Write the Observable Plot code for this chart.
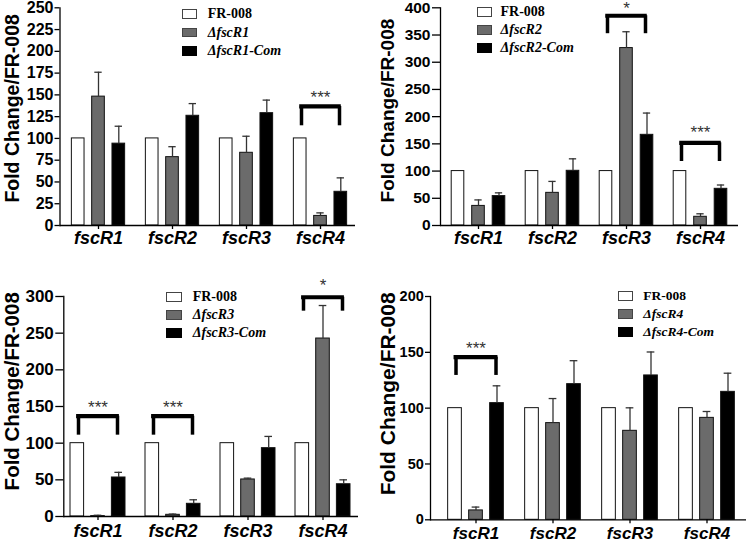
<!DOCTYPE html>
<html><head><meta charset="utf-8">
<script src="https://cdn.jsdelivr.net/npm/d3@7"></script>
<script src="https://cdn.jsdelivr.net/npm/@observablehq/plot@0.6"></script>
<style>
body{margin:0;background:#fff;}
#root{position:relative;width:750px;height:544px;overflow:hidden;background:#fff;}
.panel{position:absolute;}
.leg{position:absolute;font-family:"Liberation Serif","Times New Roman",serif;font-weight:bold;color:#000;white-space:nowrap;}
.sw{position:absolute;box-sizing:border-box;border:1px solid #333;}
.lt{position:absolute;line-height:1;transform:translateY(-52%);}
</style></head><body><div id="root"></div>
<script>
// ---- shared ----
const genes = ["fscR1", "fscR2", "fscR3", "fscR4"];
const yLabel = "Fold Change/FR-008";

// ---- panel A: ΔfscR1 ----
const strainsA = ["FR-008", "ΔfscR1", "ΔfscR1-Com"];
const wtA = [100, 100, 100, 100];
const mutA = [148, 78.5, 83.5, 11];
const mutErrA = [28, 12, 19, 3.5];
const comA = [94, 126, 129, 38.7];
const comErrA = [20, 14, 15, 16];
const yTicksA = [0, 25, 50, 75, 100, 125, 150, 175, 200, 225, 250];
const sigGenesA = ["fscR4"];
const sigTopA = [136.7];
const sigBottomA = [114.5];
const sigStarA = [151];
const sigTextA = ["***"];

// ---- panel B: ΔfscR2 ----
const strainsB = ["FR-008", "ΔfscR2", "ΔfscR2-Com"];
const wtB = [100, 100, 100, 100];
const mutB = [36, 60, 326, 16];
const mutErrB = [11, 21, 30, 5.5];
const comB = [54, 100.5, 166.6, 67.4];
const comErrB = [6, 22, 40, 7];
const yTicksB = [0, 50, 100, 150, 200, 250, 300, 350, 400];
const sigGenesB = ["fscR3", "fscR4"];
const sigTopB = [385.4, 151.9];
const sigBottomB = [352.4, 117.6];
const sigStarB = [405, 177.6];
const sigTextB = ["*", "***"];

// ---- panel C: ΔfscR3 ----
const strainsC = ["FR-008", "ΔfscR3", "ΔfscR3-Com"];
const wtC = [100, 100, 100, 100];
const mutC = [0.5, 2.3, 50.5, 242.7];
const mutErrC = [1.2, 1, 1.8, 45];
const comC = [53.2, 17.3, 93.2, 44];
const comErrC = [7, 5.5, 16, 6];
const yTicksC = [0, 50, 100, 150, 200, 250, 300];
const sigGenesC = ["fscR1", "fscR2", "fscR4"];
const sigTopC = [136.8, 136.8, 299];
const sigBottomC = [110.9, 110.9, 280];
const sigStarC = [153.7, 153.7, 319.5];
const sigTextC = ["***", "***", "*"];

// ---- panel D: ΔfscR4 ----
const strainsD = ["FR-008", "ΔfscR4", "ΔfscR4-Com"];
const wtD = [100, 100, 100, 100];
const mutD = [8.4, 86.6, 79.7, 91.3];
const mutErrD = [3, 22, 20.6, 5.7];
const comD = [104.5, 121.5, 129.3, 114.6];
const comErrD = [15.5, 21, 21, 16.7];
const yTicksD = [0, 50, 100, 150, 200];
const sigGenesD = ["fscR1"];
const sigTopD = [145.7];
const sigBottomD = [129.3];
const sigStarD = [157];
const sigTextD = ["***"];

const fills = ["#ffffff", "#6b6b6b", "#000000"];
const swatchBorders = ["#444", "#444", "#000"];
const root = document.getElementById("root");

function buildPanel(p) {
  const rows = [];
  genes.forEach((g, i) => {
    rows.push({gene: g, s: 0, v: p.wt[i], e: 0});
    rows.push({gene: g, s: 1, v: p.mut[i], e: p.mutErr[i]});
    rows.push({gene: g, s: 2, v: p.com[i], e: p.comErr[i]});
  });
  const sig = p.sigGenes.map((g, i) => ({gene: g, top: p.sigTop[i], bottom: p.sigBottom[i], star: p.sigStar[i], label: p.sigText[i]}));
  const step = (p.c3 - p.c0) / 3;
  const inset = (step - p.barW) / 2;
  const capInset = (step - 8) / 2;
  const offs = [-p.off, 0, p.off];
  const marks = [];
  for (let s = 0; s < 3; s++) {
    const d = rows.filter(r => r.s === s);
    marks.push(Plot.barY(d, {x: "gene", y: "v", fill: fills[s], stroke: "#111", strokeWidth: 1, insetLeft: inset, insetRight: inset, dx: offs[s]}));
    const de = d.filter(r => r.e > 0);
    marks.push(Plot.ruleX(de, {x: "gene", y1: "v", y2: r => r.v + r.e, dx: offs[s], stroke: "#333", strokeWidth: 1.3}));
    marks.push(Plot.tickY(de, {x: "gene", y: r => r.v + r.e, dx: offs[s], insetLeft: capInset, insetRight: capInset, stroke: "#333", strokeWidth: 1.3}));
  }
  const bIn = (step - 2 * p.bOff) / 2;
  marks.push(Plot.tickY(sig, {x: "gene", y: "top", insetLeft: bIn, insetRight: bIn, stroke: "#000", strokeWidth: 4.2, strokeLinecap: "square"}));
  marks.push(Plot.ruleX(sig, {x: "gene", y1: "bottom", y2: "top", dx: -p.bOff, stroke: "#000", strokeWidth: 3.5}));
  marks.push(Plot.ruleX(sig, {x: "gene", y1: "bottom", y2: "top", dx: p.bOff, stroke: "#000", strokeWidth: 3.5}));
  marks.push(Plot.text(sig, {x: "gene", y: "star", text: "label", fontSize: 17, fill: "#333", lineAnchor: "bottom", dy: 9, fontFamily: "Liberation Sans, Arial, sans-serif"}));
  marks.push(Plot.ruleY([0], {stroke: "#000", strokeWidth: 1.3}));
  marks.push(Plot.frame({anchor: "left", stroke: "#000", strokeWidth: 1.3}));
  marks.push(Plot.axisY({ticks: p.yTicks, tickSize: p.yTickSize, tickPadding: p.yTickPad, fontSize: p.tickFont, fontWeight: "bold", label: null, strokeWidth: 1.3, tickFormat: d => String(d)}));
  marks.push(Plot.axisX({tickSize: 4, tickPadding: p.xTickPad, fontSize: p.geneFont, fontWeight: "bold", fontStyle: "italic", label: null, strokeWidth: 1.3}));
  marks.push(Plot.text([yLabel], {frameAnchor: "left", rotate: -90, text: d => d, dx: p.labelDx, dy: p.labelDy, fontSize: p.labelFont, fontWeight: "bold", textAnchor: "middle", lineAnchor: "middle"}));

  const chart = Plot.plot({
    width: p.w, height: p.h,
    marginLeft: p.mL, marginRight: p.mR, marginTop: p.mT, marginBottom: p.mB,
    x: {type: "band", domain: genes, range: [p.c0 - step / 2, p.c3 + step / 2], padding: 0},
    y: {domain: [0, p.yMax]},
    style: {fontFamily: "Liberation Sans, Arial, sans-serif", color: "#000", background: "transparent", overflow: "visible"},
    marks
  });
  const div = document.createElement("div");
  div.className = "panel";
  div.style.left = p.left + "px";
  div.style.top = p.top + "px";
  div.appendChild(chart);
  root.appendChild(div);

  // legend
  const leg = document.createElement("div");
  leg.className = "leg";
  leg.style.left = "0px"; leg.style.top = "0px";
  p.strains.forEach((name, i) => {
    const sw = document.createElement("div");
    sw.className = "sw";
    sw.style.left = p.legSwLeft + "px";
    sw.style.top = p.legRows[i] + "px";
    sw.style.width = "15.5px";
    sw.style.height = p.legSwH + "px";
    sw.style.background = fills[i];
    sw.style.borderColor = swatchBorders[i];
    leg.appendChild(sw);
    const t = document.createElement("div");
    t.className = "lt";
    t.style.left = p.legTextLeft + "px";
    t.style.top = (p.legRows[i] + p.legSwH / 2) + "px";
    t.style.fontSize = p.legFont + "px";
    if (i > 0) t.style.fontStyle = "italic";
    t.textContent = name;
    leg.appendChild(t);
  });
  root.appendChild(leg);
}

buildPanel({left: 0, top: 0, w: 375, h: 270, mL: 59.5, mR: 20, mT: 7.3, mB: 45,
  wt: wtA, mut: mutA, mutErr: mutErrA, com: comA, comErr: comErrA, yTicks: yTicksA, yMax: 250,
  sigGenes: sigGenesA, sigTop: sigTopA, sigBottom: sigBottomA, sigStar: sigStarA, sigText: sigTextA, strains: strainsA,
  c0: 97.3, c3: 321.2, barW: 13.3, off: 20.3, bOff: 19,
  tickFont: 16, yTickSize: 5, yTickPad: 1.5, geneFont: 18, xTickPad: 2, labelFont: 19.5, labelDx: -46.8, labelDy: -8.3,
  legSwLeft: 181.7, legRows: [9.3, 27.8, 46.3], legSwH: 9.5, legTextLeft: 207.7, legFont: 14});

buildPanel({left: 375, top: 0, w: 375, h: 270, mL: 65, mR: 12, mT: 7.3, mB: 45,
  wt: wtB, mut: mutB, mutErr: mutErrB, com: comB, comErr: comErrB, yTicks: yTicksB, yMax: 400,
  sigGenes: sigGenesB, sigTop: sigTopB, sigBottom: sigBottomB, sigStar: sigStarB, sigText: sigTextB, strains: strainsB,
  c0: 102.3, c3: 326.4, barW: 13.3, off: 20.5, bOff: 19,
  tickFont: 15.5, yTickSize: 8, yTickPad: 2, geneFont: 18, xTickPad: 2, labelFont: 19, labelDx: -52.3, labelDy: -6.1,
  legSwLeft: 476.5, legRows: [7.3, 25, 43], legSwH: 9.5, legTextLeft: 500.5, legFont: 14});

buildPanel({left: 0, top: 270, w: 375, h: 274, mL: 63.3, mR: 17, mT: 26, mB: 28,
  wt: wtC, mut: mutC, mutErr: mutErrC, com: comC, comErr: comErrC, yTicks: yTicksC, yMax: 300,
  sigGenes: sigGenesC, sigTop: sigTopC, sigBottom: sigBottomC, sigStar: sigStarC, sigText: sigTextC, strains: strainsC,
  c0: 96.6, c3: 322.8, barW: 14, off: 20.7, bOff: 19.5,
  tickFont: 17, yTickSize: 8, yTickPad: 2, geneFont: 18, xTickPad: 3.5, labelFont: 20.5, labelDx: -51, labelDy: -15.2,
  legSwLeft: 166, legRows: [291.5, 309.5, 327.8], legSwH: 10, legTextLeft: 192.7, legFont: 14});

buildPanel({left: 375, top: 270, w: 375, h: 274, mL: 55, mR: 4, mT: 26, mB: 24.7,
  wt: wtD, mut: mutD, mutErr: mutErrD, com: comD, comErr: comErrD, yTicks: yTicksD, yMax: 200,
  sigGenes: sigGenesD, sigTop: sigTopD, sigBottom: sigBottomD, sigStar: sigStarD, sigText: sigTextD, strains: strainsD,
  c0: 100.5, c3: 332.4, barW: 14, off: 21, bOff: 20,
  tickFont: 14.5, yTickSize: 5, yTickPad: 1.7, geneFont: 17, xTickPad: 3.5, labelFont: 21, labelDx: -42.5, labelDy: -14.3,
  legSwLeft: 617.7, legRows: [291, 308.5, 326.7], legSwH: 10, legTextLeft: 643.3, legFont: 13.5});
</script></body></html>
